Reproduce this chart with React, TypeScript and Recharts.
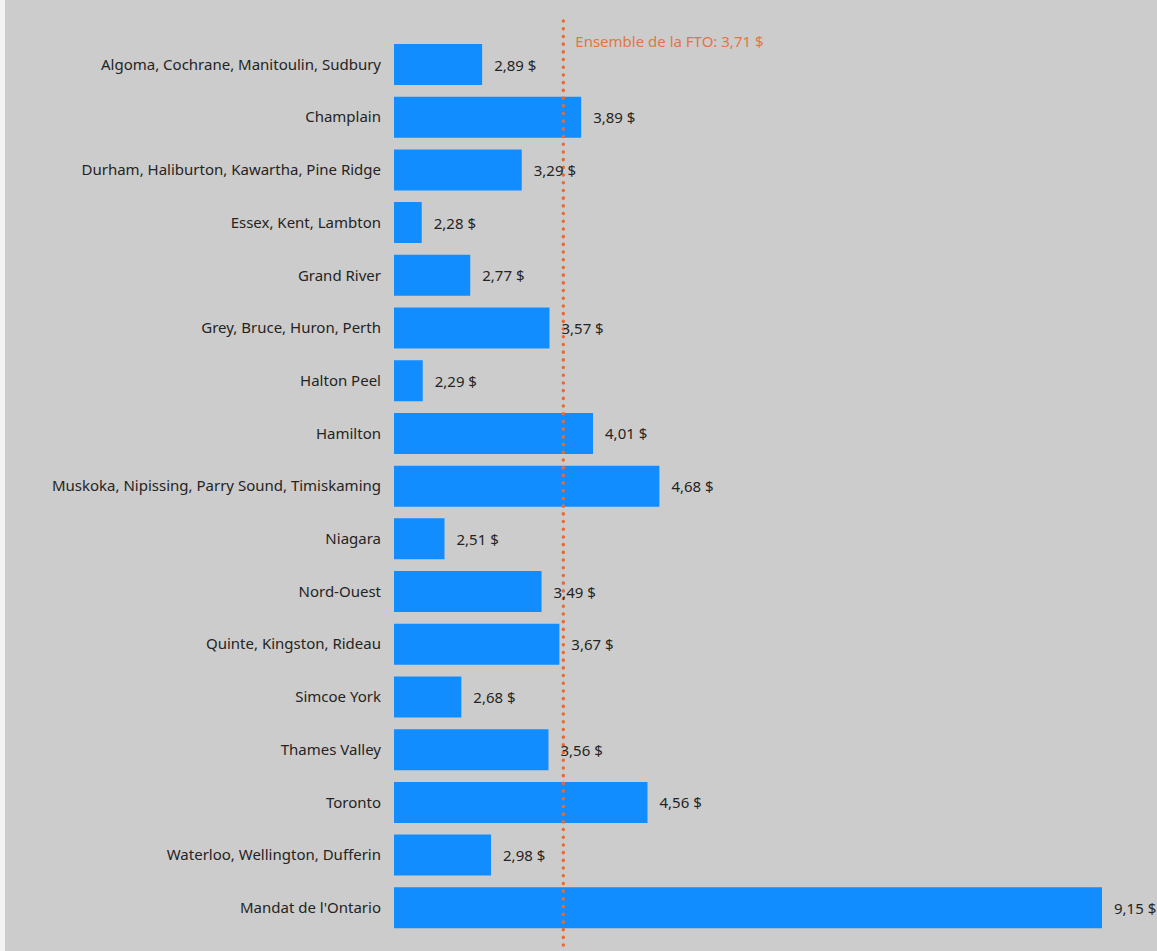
import { BarChart, Bar, XAxis, YAxis, ReferenceLine, LabelList } from 'recharts';

const regions = [
  'Algoma, Cochrane, Manitoulin, Sudbury',
  'Champlain',
  'Durham, Haliburton, Kawartha, Pine Ridge',
  'Essex, Kent, Lambton',
  'Grand River',
  'Grey, Bruce, Huron, Perth',
  'Halton Peel',
  'Hamilton',
  'Muskoka, Nipissing, Parry Sound, Timiskaming',
  'Niagara',
  'Nord-Ouest',
  'Quinte, Kingston, Rideau',
  'Simcoe York',
  'Thames Valley',
  'Toronto',
  'Waterloo, Wellington, Dufferin',
  "Mandat de l'Ontario",
];

const amounts = [2.89, 3.89, 3.29, 2.28, 2.77, 3.57, 2.29, 4.01, 4.68, 2.51, 3.49, 3.67, 2.68, 3.56, 4.56, 2.98, 9.15];

const ftoAverage = 3.71;
const ftoLabel = 'Ensemble de la FTO';

const FONT = "'Noto Sans', 'Open Sans', sans-serif";
const TEXT = '#252423';
const ORANGE = '#E66C37';

const fmt = (v: number) => v.toFixed(2).replace('.', ',') + ' $';

const data = regions.map((name, i) => ({ name, value: amounts[i] }));

// dotted average line, stretched a little past the plot area like the original
function DottedLine(props: any) {
  const { x1, y1, x2, y2 } = props;
  const top = Math.min(y1, y2);
  const bottom = Math.max(y1, y2);
  return (
    <line
      x1={x1}
      x2={x2}
      y1={top - 17}
      y2={bottom + 20}
      stroke={ORANGE}
      strokeWidth={3.5}
      strokeLinecap="round"
      strokeDasharray="0.1 7.6"
    />
  );
}

function ValueLabel(props: any) {
  const { x, y, width, height, value } = props;
  return (
    <text
      x={x + width + 12}
      y={y + height / 2 + 2}
      dominantBaseline="middle"
      fill={TEXT}
      fontSize={15}
      fontFamily={FONT}
    >
      {fmt(Number(value))}
    </text>
  );
}

export default function App() {
  return (
    <div
      style={{
        position: 'fixed',
        left: 0,
        top: 0,
        width: 1157,
        height: 951,
        background: '#CCCCCC',
        overflow: 'hidden',
        fontFamily: FONT,
      }}
    >
      <div style={{ position: 'absolute', left: 0, top: 0, width: 5, height: 951, background: '#F3F3F3' }} />
      <BarChart
        width={1157}
        height={951}
        layout="vertical"
        data={data}
        margin={{ top: 38, right: 55, bottom: 17, left: 0 }}
      >
        <XAxis type="number" hide domain={[2, 9.15]} allowDataOverflow />
        <YAxis
          type="category"
          dataKey="name"
          width={394}
          axisLine={false}
          tickLine={false}
          tickMargin={7}
          interval={0}
          tick={{ fontSize: 15, fill: TEXT, fontFamily: FONT }}
        />
        <Bar dataKey="value" fill="#118DFF" barSize={41} isAnimationActive={false}>
          <LabelList dataKey="value" content={ValueLabel} />
        </Bar>
        <ReferenceLine
          x={ftoAverage}
          shape={DottedLine}
          ifOverflow="visible"
          label={(p: any) => (
            <text
              x={p.viewBox.x + 12}
              y={p.viewBox.y + 9}
              fill={ORANGE}
              fontSize={15}
              fontFamily={FONT}
              opacity={0.9}
            >
              {`${ftoLabel}: ${fmt(ftoAverage)}`}
            </text>
          )}
        />
      </BarChart>
    </div>
  );
}
